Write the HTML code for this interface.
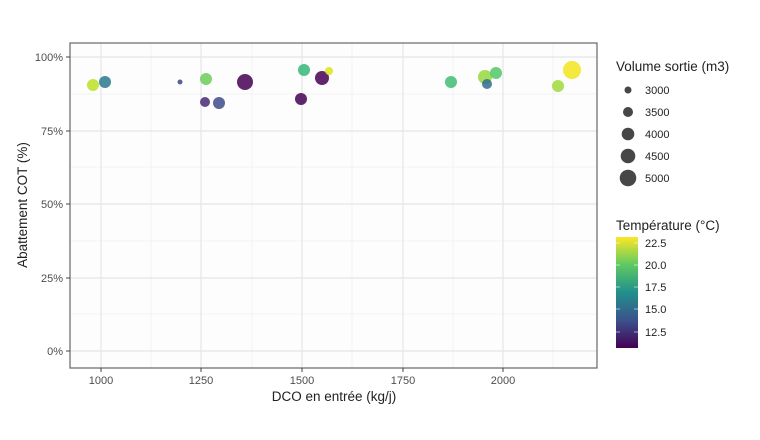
<!DOCTYPE html>
<html><head><meta charset="utf-8"><style>body{margin:0;background:#fff}svg{display:block;font-family:"Liberation Sans",sans-serif}</style></head><body>
<svg width="760" height="440" viewBox="0 0 760 440" xmlns="http://www.w3.org/2000/svg">
<defs><linearGradient id="vg" x1="0" y1="1" x2="0" y2="0">
<stop offset="0" stop-color="#440154"/><stop offset="0.25" stop-color="#3b528b"/><stop offset="0.5" stop-color="#21908c"/><stop offset="0.75" stop-color="#5ec962"/><stop offset="1" stop-color="#fde725"/></linearGradient></defs>
<rect x="70" y="43" width="527" height="325" fill="#fdfdfd"/>
<g stroke="#ebebeb" stroke-width="0.6">
<line x1="70" x2="597" y1="94" y2="94"/><line x1="70" x2="597" y1="167" y2="167"/><line x1="70" x2="597" y1="241" y2="241"/><line x1="70" x2="597" y1="314" y2="314"/>
<line x1="151" x2="151" y1="43" y2="368"/><line x1="252" x2="252" y1="43" y2="368"/><line x1="352" x2="352" y1="43" y2="368"/><line x1="453" x2="453" y1="43" y2="368"/><line x1="553" x2="553" y1="43" y2="368"/>
</g>
<g stroke="#e6e6e6" stroke-width="1.2">
<line x1="70" x2="597" y1="57" y2="57"/><line x1="70" x2="597" y1="131" y2="131"/><line x1="70" x2="597" y1="204" y2="204"/><line x1="70" x2="597" y1="278" y2="278"/><line x1="70" x2="597" y1="351" y2="351"/>
<line x1="101" x2="101" y1="43" y2="368"/><line x1="201" x2="201" y1="43" y2="368"/><line x1="302" x2="302" y1="43" y2="368"/><line x1="403" x2="403" y1="43" y2="368"/><line x1="503" x2="503" y1="43" y2="368"/>
</g>
<g fill-opacity="0.85">
<circle cx="93" cy="85" r="6" fill="#bddf26"/>
<circle cx="105" cy="82" r="6" fill="#2a788e"/>
<circle cx="180" cy="82" r="2.5" fill="#414487"/>
<circle cx="206" cy="79" r="6" fill="#6ccd5a"/>
<circle cx="205" cy="102" r="5" fill="#482878"/>
<circle cx="219" cy="103" r="6" fill="#3e4c8a"/>
<circle cx="245" cy="82" r="8" fill="#440154"/>
<circle cx="301" cy="99" r="6" fill="#440154"/>
<circle cx="304" cy="70" r="6" fill="#35b779"/>
<circle cx="322" cy="78" r="7" fill="#440154"/>
<circle cx="329" cy="71" r="4" fill="#dde318"/>
<circle cx="451" cy="82" r="6" fill="#40bd72"/>
<circle cx="485" cy="77" r="7" fill="#95d840"/>
<circle cx="487" cy="84" r="5" fill="#2f6c8e"/>
<circle cx="496" cy="73" r="6" fill="#52c569"/>
<circle cx="558" cy="86" r="6" fill="#9fda3a"/>
<circle cx="572" cy="70" r="9" fill="#f1e51d"/>
</g>
<rect x="70" y="43" width="527" height="325" fill="none" stroke="#666" stroke-width="1.2"/>
<g stroke="#444" stroke-width="1"><line x1="66" x2="70" y1="57" y2="57"/><line x1="66" x2="70" y1="131" y2="131"/><line x1="66" x2="70" y1="204" y2="204"/><line x1="66" x2="70" y1="278" y2="278"/><line x1="66" x2="70" y1="351" y2="351"/>
<line x1="101" x2="101" y1="368" y2="372"/><line x1="201" x2="201" y1="368" y2="372"/><line x1="302" x2="302" y1="368" y2="372"/><line x1="403" x2="403" y1="368" y2="372"/><line x1="503" x2="503" y1="368" y2="372"/></g>
<g font-size="11" fill="#4d4d4d" text-anchor="end"><text x="63" y="61">100%</text><text x="63" y="135">75%</text><text x="63" y="208">50%</text><text x="63" y="282">25%</text><text x="63" y="355">0%</text></g>
<g font-size="11" fill="#4d4d4d" text-anchor="middle"><text x="101" y="384">1000</text><text x="201" y="384">1250</text><text x="302" y="384">1500</text><text x="403" y="384">1750</text><text x="503" y="384">2000</text></g>
<text x="334" y="401" font-size="13.5" text-anchor="middle" fill="#222">DCO en entrée (kg/j)</text>
<text transform="translate(27,205) rotate(-90)" font-size="13.5" text-anchor="middle" fill="#222">Abattement COT (%)</text>
<text x="616" y="71" font-size="13.5" fill="#222">Volume sortie (m3)</text>
<g fill="#333" fill-opacity="0.9"><circle cx="628" cy="90" r="3.5"/><circle cx="628" cy="112" r="5"/><circle cx="628" cy="134" r="6.3"/><circle cx="628" cy="156" r="7.3"/><circle cx="628" cy="178" r="8.3"/></g>
<g font-size="11" fill="#222"><text x="645" y="94">3000</text><text x="645" y="116">3500</text><text x="645" y="138">4000</text><text x="645" y="160">4500</text><text x="645" y="182">5000</text>
<text x="645" y="247">22.5</text><text x="645" y="269">20.0</text><text x="645" y="291">17.5</text><text x="645" y="313">15.0</text><text x="645" y="336">12.5</text></g>
<text x="616" y="230" font-size="13.5" fill="#222">Température (°C)</text>
<rect x="616" y="237" width="22" height="111" fill="url(#vg)"/>
<g stroke="#fff" stroke-width="0.8" opacity="0.7"><line x1="616" x2="620" y1="243" y2="243"/><line x1="634" x2="638" y1="243" y2="243"/><line x1="616" x2="620" y1="265" y2="265"/><line x1="634" x2="638" y1="265" y2="265"/><line x1="616" x2="620" y1="287" y2="287"/><line x1="634" x2="638" y1="287" y2="287"/><line x1="616" x2="620" y1="309" y2="309"/><line x1="634" x2="638" y1="309" y2="309"/><line x1="616" x2="620" y1="332" y2="332"/><line x1="634" x2="638" y1="332" y2="332"/></g>
</svg>
</body></html>
